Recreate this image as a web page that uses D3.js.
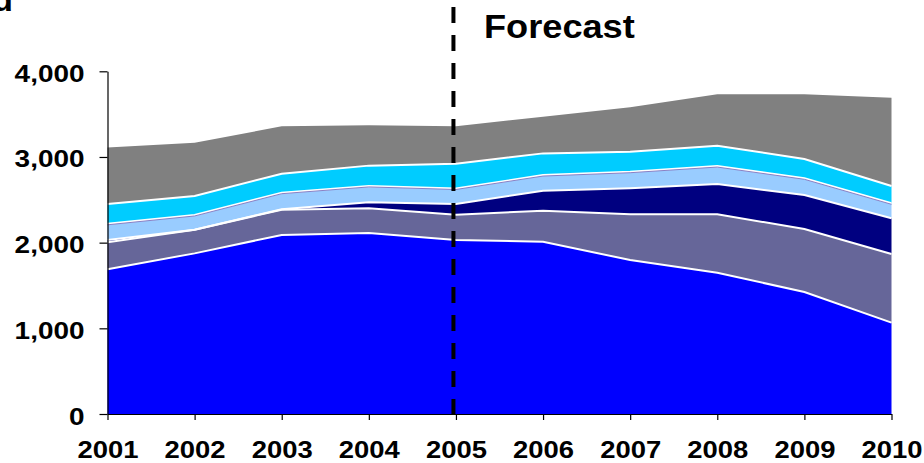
<!DOCTYPE html>
<html>
<head>
<meta charset="utf-8">
<script src="https://cdn.jsdelivr.net/npm/d3@7"></script>
<style>
  html, body { margin: 0; padding: 0; background: #fff; }
  svg { display: block; }
  text { font-family: "Liberation Sans", Arial, sans-serif; font-weight: bold; fill: #000; }
</style>
</head>
<body>
<svg id="chart" width="924" height="463"></svg>
<script>
// Years on the horizontal axis
const years = [2001, 2002, 2003, 2004, 2005, 2006, 2007, 2008, 2009, 2010];

// Stacked components, bottom to top
const seriesBlue      = [1690, 1875, 2090, 2112, 2030, 2011, 1797, 1649, 1424, 1066];
const seriesSlate     = [314, 275, 295, 290, 295, 362, 534, 682, 736, 801];
const seriesNavy      = [26, 0, 5, 69, 125, 233, 303, 353, 396, 417];
const seriesLightBlue = [190, 173, 193, 191, 182, 183, 194, 210, 195, 175];
const seriesCyan      = [230, 221, 222, 237, 290, 253, 234, 238, 225, 202];
const seriesGrey      = [662, 623, 553, 471, 438, 428, 518, 599, 755, 1031];

const yTicks = [0, 1000, 2000, 3000, 4000];
const forecastStart = 2005;
const forecastLabel = "Forecast";

const seriesList = [
  { key: "blue",      values: seriesBlue,      color: "#0000FF" },
  { key: "slate",     values: seriesSlate,     color: "#666699" },
  { key: "navy",      values: seriesNavy,      color: "#000080" },
  { key: "lightblue", values: seriesLightBlue, color: "#99CCFF" },
  { key: "cyan",      values: seriesCyan,      color: "#00CCFF" },
  { key: "grey",      values: seriesGrey,      color: "#808080" }
];

const rows = years.map((yr, i) => {
  const r = { year: yr };
  seriesList.forEach(s => { r[s.key] = s.values[i]; });
  return r;
});

const svg = d3.select("#chart");

const x = d3.scaleLinear().domain([2001, 2010]).range([107.5, 891.5]);
const y = d3.scaleLinear().domain([0, 4000]).range([414, 71.3]);

const stack = d3.stack().keys(seriesList.map(s => s.key));
const layers = stack(rows);

const area = d3.area()
  .x(d => x(d.data.year))
  .y0(d => y(d[0]))
  .y1(d => y(d[1]));

const topLine = d3.line()
  .x(d => x(d.data.year))
  .y(d => y(d[1]));

const plot = svg.append("g");

plot.selectAll("path.layer")
  .data(layers)
  .join("path")
  .attr("class", "layer")
  .attr("d", area)
  .attr("fill", (d, i) => seriesList[i].color);

// White separators between stacked bands
plot.selectAll("path.sep")
  .data(layers.slice(0, layers.length - 1))
  .join("path")
  .attr("class", "sep")
  .attr("d", topLine)
  .attr("fill", "none")
  .attr("stroke", "#fff")
  .attr("stroke-width", 2);

// Thin violet edge along the top of the light-blue band
plot.append("path")
  .datum(layers[3])
  .attr("d", topLine)
  .attr("transform", "translate(0,1)")
  .attr("fill", "none")
  .attr("stroke", "#8a80c4")
  .attr("stroke-width", 1);

// Axes
const yAxis = d3.axisLeft(y).tickValues(yTicks).tickFormat(d3.format(",")).tickSize(8).tickSizeOuter(0);
const gy = svg.append("g").attr("transform", "translate(107.5,0)").call(yAxis);
gy.select(".domain").attr("stroke", "#000").attr("stroke-width", 1.2);
gy.selectAll(".tick line").attr("stroke", "#000").attr("stroke-width", 1.2);
gy.selectAll(".tick text")
  .attr("x", 0).attr("y", 0).attr("dy", null)
  .attr("text-anchor", "end")
  .attr("transform", "translate(-23,10) scale(1.14,1)")
  .style("font-size", "24.5px")
  .style("font-family", "'Liberation Sans', Arial, sans-serif")
  .style("font-weight", "bold");

const xAxis = d3.axisBottom(x).tickValues(years).tickFormat(d3.format("d")).tickSize(6).tickSizeOuter(0);
const gx = svg.append("g").attr("transform", "translate(0,414)").call(xAxis);
gx.select(".domain").attr("stroke", "#000").attr("stroke-width", 1.2);
gx.selectAll(".tick line").attr("stroke", "#000").attr("stroke-width", 1.2);
gx.selectAll(".tick text")
  .attr("x", 0).attr("y", 0).attr("dy", null)
  .attr("text-anchor", "middle")
  .attr("transform", "translate(0,44) scale(1.12,1)")
  .style("font-size", "24.5px")
  .style("font-family", "'Liberation Sans', Arial, sans-serif")
  .style("font-weight", "bold");

// Forecast divider
svg.append("line")
  .attr("x1", x(forecastStart) - 2.5).attr("x2", x(forecastStart) - 2.5)
  .attr("y1", 7).attr("y2", 415)
  .attr("stroke", "#000")
  .attr("stroke-width", 4)
  .attr("stroke-dasharray", "16,12");

svg.append("text")
  .attr("transform", "translate(484,37.5) scale(1.08,1)")
  .style("font-size", "33.5px")
  .text(forecastLabel);

// Tail of the heading that runs off the top-left edge
svg.append("text")
  .attr("x", 13).attr("y", 11)
  .attr("text-anchor", "end")
  .style("font-size", "33.5px")
  .text("d");
</script>
</body>
</html>
